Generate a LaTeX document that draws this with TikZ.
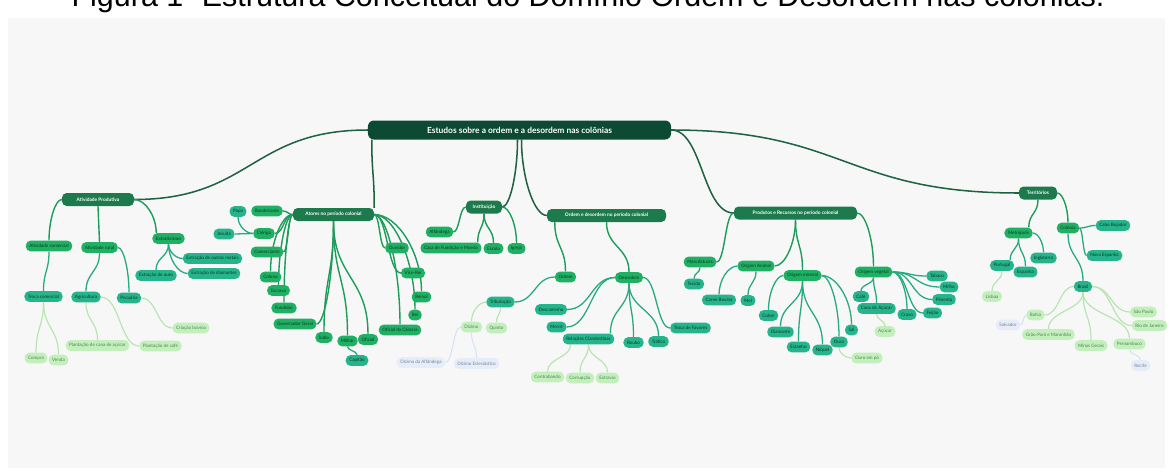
\documentclass[tikz,border=0pt]{standalone}
\usepackage{fontspec}
\setmainfont{Lato}
\newfontfamily\capfont{Liberation Sans}
\usepackage{xcolor}
\usetikzlibrary{calc}
\usetikzlibrary{backgrounds}

\definecolor{panel}{HTML}{F7F7F7}
\definecolor{rootc}{HTML}{0D4A33}
\definecolor{lvA}{HTML}{1D7A4C}
\definecolor{lvB}{HTML}{1FB064}
\definecolor{lvC}{HTML}{25B48C}
\definecolor{lvD}{HTML}{C3EFBD}
\definecolor{lvE}{HTML}{E6EDF9}
\definecolor{txB}{HTML}{0B3A24}
\definecolor{txD}{HTML}{4C8550}
\definecolor{txE}{HTML}{76839A}
\definecolor{lnR}{HTML}{1E6242}
\definecolor{lnB}{HTML}{1E9C5C}
\definecolor{lnC}{HTML}{27A982}
\definecolor{lnD}{HTML}{B6E6AF}
\definecolor{lnE}{HTML}{D6E2F4}

\tikzset{
  rootbox/.style={fill=rootc, text=white, rounded corners=5pt, minimum width=9.09cm,
    minimum height=0.57cm, inner sep=0pt, font=\fontsize{7.2}{8}\selectfont\bfseries},
  onebox/.style={fill=lvA, text=white, rounded corners=4pt, minimum height=0.39cm,
    inner xsep=2pt, inner ysep=0pt, font=\fontsize{4.1}{4.8}\selectfont\bfseries},
  twobox/.style={fill=lvB, text=txB, rounded corners=4pt, minimum height=0.32cm,
    inner xsep=3pt, inner ysep=0pt, font=\fontsize{3.9}{4.5}\selectfont},
  threebox/.style={twobox, fill=lvC},
  fourbox/.style={twobox, fill=lvD, text=txD},
  fivebox/.style={twobox, fill=lvE, text=txE},
  lnroot/.style={draw=lnR, line width=1.3pt},
  lnone/.style={draw=lnB, line width=1.2pt},
  lntwo/.style={draw=lnC, line width=1.1pt},
  lnthree/.style={draw=lnD, line width=1pt},
  lnfour/.style={draw=lnE, line width=0.9pt},
  vv/.style={to path={let \p1=(\tikztostart), \p2=(\tikztotarget) in
    .. controls (\x1,{0.5*\y1+0.5*\y2}) and (\x2,{0.5*\y1+0.5*\y2}) .. (\tikztotarget)}},
  hh/.style={to path={let \p1=(\tikztostart), \p2=(\tikztotarget) in
    .. controls ({0.5*\x1+0.5*\x2},\y1) and ({0.5*\x1+0.5*\x2},\y2) .. (\tikztotarget)}},
  hv/.style={to path={let \p1=(\tikztostart), \p2=(\tikztotarget) in
    .. controls ({0.5*\x1+0.5*\x2},\y1) and (\x2,{0.5*\y1+0.5*\y2}) .. (\tikztotarget)}},
  vh/.style={to path={let \p1=(\tikztostart), \p2=(\tikztotarget) in
    .. controls (\x1,{0.5*\y1+0.5*\y2}) and ({0.5*\x1+0.5*\x2},\y2) .. (\tikztotarget)}},
}

\begin{document}
\begin{tikzpicture}[x=0.03cm, y=-0.03cm]
    \useasboundingbox (0,0) rectangle (1173,472);
    \node[font=\capfont\fontsize{26}{30}\selectfont, anchor=base] (cap) at (588,6)
        {Figura 1- Estrutura Conceitual do Domínio Ordem e Desordem nas colônias.};

    % central topic and main branches
    \node[rootbox] (root) at (519.5,130) {Estudos sobre a ordem e a desordem nas colônias};
    \foreach \n/\x/\y/\w/\t in {ap/98/199.5/2.16/Atividade Produtiva,
        at/333.5/214.5/2.43/Atores no período colonial,
        inst/484/207/1.08/Instituição,
        od/606.5/215.5/3.57/Ordem e desordem no período colonial,
        pr/795.5/213/3.69/Produtos e Recursos no período colonial,
        te/1038/193/1.14/Territórios}
        \node[onebox, minimum width=\w cm] (\n) at (\x,\y) {\t};

    % second level
    \foreach \n/\x/\y/\t in {acom/49/246/Atividade comercial, arur/99.5/247.5/Atividade rural,
        extr/168.5/238.5/Extrativismo, band/267/211/Bandeirante, cler/264/233.5/Clérigo,
        come/267/252/Comerciante, colo/270.5/277/Colono, escr/278.5/290.5/Escravo,
        fund/284/308/Fundidor, gove/295/324/Governador Geral, indi/324/337.5/Índio,
        mili/347.5/341/Militar, ofic/368/339.5/Oficial, ouvi/397/248/Ouvidor,
        vice/413/273/Vice-Rei, rein/421.5/297/Reinol, rei/415/315/Rei,
        ocam/400/330/Oficial da Câmara, alfa/439.5/232/Alfândega,
        casa/451/248/Casa de Fundição e Moeda, esco/493.5/248.5/Escola,
        igre/516.5/248.5/Igreja, orde/565.5/277/Ordem, deso/629/277.5/Desordem,
        manu/700/262/Manufaturas, oani/756/266/Origem Animal,
        omin/802.5/275.5/Origem mineral, oveg/873.5/272/Origem vegetal,
        metr/1018.5/233/Metrópole, colon/1068/228/Colônia}
        \node[twobox] (\n) at (\x,\y) {\t};

    % third level
    \foreach \n/\x/\y/\t in {troc/43.5/296.5/Troca comercial, agri/86/297/Agricultura,
        pecu/129/298/Pecuária, eour/156/275.5/Extração de ouro,
        emet/212.5/258.5/Extração de outros metais, edia/214/273.5/Extração de diamantes,
        papa/238/211.5/Papa, jesu/224/234/Jesuíta, capi/357/360.5/Capitão,
        trib/500.5/302/Tributação, desc/551/309.5/Descaminho, merc/556.5/327/Mercê,
        rela/588.5/339/Relações Clandestinas, roub/633.5/342.5/Roubo,
        traf/658.5/341.5/Tráfico, tfav/690.5/328/Troca de Favores, teci/694/284/Tecido,
        carn/719/300/Carne Bovina, mel/748/300.5/Mel, cobr/768.5/315.5/Cobre,
        diam/780.5/332/Diamante, esta/798.5/347/Estanho, niqu/822.5/350/Níquel,
        ouro/839/342/Ouro, sal/851.5/330/Sal, cafe/861/296.5/Café,
        cana/876.5/308.5/Cana de Açúcar, taba/937/276/Tabaco, milh/949/287/Milho,
        pime/944/299.5/Pimenta, feij/932.5/313/Feijão, crav/907/314.5/Cravo,
        port/1002/265.5/Portugal, espa/1025.5/272/Espanha, ingl/1043.5/258/Inglaterra,
        cabo/1113/225.5/Cabo Bojador, nesp/1104.5/255.5/Nova Espanha, bras/1083/286.5/Brasil}
        \node[threebox] (\n) at (\x,\y) {\t};

    % fourth level
    \foreach \n/\x/\y/\t in {cbov/191/328/Criação bovina, pcan/97.5/345.5/Plantação de cana de açúcar,
        pcaf/160.5/346/Plantação de café, comp/36/358/Compra, vend/58.5/360/Venda,
        dizi/471.5/327/Dízimo, quin/496.5/328/Quinto, cont/547.5/377/Contrabando,
        corr/580/378/Corrupção, extv/607.5/378/Extravio, opo/867/358/Ouro em pó,
        acuc/885/331.5/Açúcar, lisb/992/296.5/Lisboa, bahi/1035.5/315/Bahia,
        grao/1048.5/334.5/Grão-Pará e Maranhão, mina/1091/345.5/Minas Gerais,
        pern/1129.5/344/Pernambuco, spau/1143.5/312/São Paulo, rioj/1149.5/325.5/Rio de Janeiro}
        \node[fourbox] (\n) at (\x,\y) {\t};

    % fifth level
    \foreach \n/\x/\y/\t in {dalf/421/362.5/Dízima da Alfândega, decl/476.5/363.5/Dízimo Eclesiástico,
        salv/1008/325/Salvador, reci/1140.5/365.5/Recife}
        \node[fivebox] (\n) at (\x,\y) {\t};

    % offset end points
    \coordinate (rAt) at ($(root.south west)+(4,0)$);
    \coordinate (rIn) at ($(root.south)+(-2,0)$);
    \coordinate (rOd) at ($(root.south)+(2,0)$);
    \coordinate (extrL) at ($(extr.north west)+(4,0)$);
    \coordinate (casaR) at ($(casa.north east)+(-4,0)$);
    \coordinate (odL) at ($(od.south west)+(8,0)$);
    \coordinate (relaR) at ($(rela.north east)+(-4,0)$);
    \coordinate (relaL) at ($(rela.south west)+(8,0)$);
    \coordinate (metrR) at ($(metr.north east)+(-4,0)$);
    \coordinate (portR) at ($(port.north east)+(-4,0)$);

    \begin{scope}[on background layer]
        \fill[white] (0,0) rectangle (1173,472);
        \fill[panel] (8,18) rectangle (1165,468);
        % connectors from the central topic
        \draw[lnroot] (root.west) to[hh] (ap.east);
        \draw[lnroot] (rAt) to[vv] (at.north east);
        \draw[lnroot] (rIn) to[vh] (inst.east);
        \draw[lnroot] (rOd) to[vh] (od.west);
        \draw[lnroot] (root.east) to[hh] (pr.west);
        \draw[lnroot] (root.east) to[hh] (te.west);
        % main branches to second level
        \foreach \a/\b in {ap.south/arur.north, at.south/indi.north, at.south/mili.north,
            at.south/ofic.north, inst.south/esco.north, inst.south/casaR, odL/orde.north,
            od.south/deso.north, pr.south/omin.north, te.south/metrR}
            \draw[lnone] (\a) to[vv] (\b);
        \foreach \a/\b in {ap.west/acom.north, ap.east/extrL, at.west/colo.north,
            at.west/escr.north, at.west/fund.north, at.east/rein.north, at.east/rei.north,
            at.east/ocam.north, inst.east/igre.north, pr.east/oveg.north, te.east/colon.north}
            \draw[lnone] (\a) to[hv] (\b);
        \foreach \a/\b in {at.west/band.east, at.west/cler.east, at.west/come.east,
            at.east/ouvi.west, at.east/vice.west, inst.west/alfa.east, pr.west/manu.east}
            \draw[lnone] (\a) to[hh] (\b);
        \foreach \a/\b in {at.south/gove.east, pr.south/oani.east}
            \draw[lnone] (\a) to[vh] (\b);
        % second level to third level
        \foreach \a/\b in {acom.south/troc.north, arur.south/agri.north, extr.south/eour.north,
            mili.south/capi.north, deso.south/relaR, deso.south/roub.north, deso.south/traf.north,
            manu.south/teci.north, oani.south/mel.north, omin.south/diam.north,
            omin.south/esta.north, omin.south/niqu.north, oveg.south/cafe.north,
            oveg.south/cana.north, metr.south/portR, metr.south/espa.north, colon.south/bras.north}
            \draw[lntwo] (\a) to[vv] (\b);
        \foreach \a/\b in {arur.east/pecu.north, cler.west/papa.south, oani.west/carn.north,
            omin.west/cobr.north, omin.east/ouro.north, omin.east/sal.north,
            oveg.east/crav.north, metr.east/ingl.north}
            \draw[lntwo] (\a) to[hv] (\b);
        \foreach \a/\b in {cler.west/jesu.east, orde.west/trib.east, deso.west/desc.east,
            deso.west/merc.east, deso.east/tfav.west, oveg.east/taba.west, oveg.east/milh.west,
            oveg.east/pime.west, oveg.east/feij.west, colon.east/cabo.west, colon.east/nesp.west}
            \draw[lntwo] (\a) to[hh] (\b);
        \foreach \a/\b in {extr.south/emet.west, extr.south/edia.west}
            \draw[lntwo] (\a) to[vh] (\b);
        % third level to fourth level
        \foreach \a/\b in {troc.south/comp.north, troc.south/vend.north, agri.south/pcan.north,
            relaL/cont.north, rela.south/corr.north, rela.south/extv.north, trib.south/quin.north,
            cana.south/acuc.north, port.south/lisb.north, bras.south/grao.north,
            bras.south/mina.north, bras.south/pern.north}
            \draw[lnthree] (\a) to[vv] (\b);
        \foreach \a/\b in {agri.east/pcaf.west, pecu.east/cbov.west, bras.west/bahi.east,
            bras.east/spau.west, bras.east/rioj.west}
            \draw[lnthree] (\a) to[hh] (\b);
        \draw[lnthree] (trib.west) to[hv] (dizi.north);
        \draw[lnthree] (ouro.south) to[vh] (opo.west);
        % fourth level to fifth level
        \draw[lnfour] (dizi.west) to[hh] (dalf.east);
        \draw[lnfour] (bahi.west) to[hh] (salv.east);
        \draw[lnfour] (dizi.south) to[vv] (decl.north);
        \draw[lnfour] (pern.south) to[vv] (reci.north);
    \end{scope}
\end{tikzpicture}
\end{document}
